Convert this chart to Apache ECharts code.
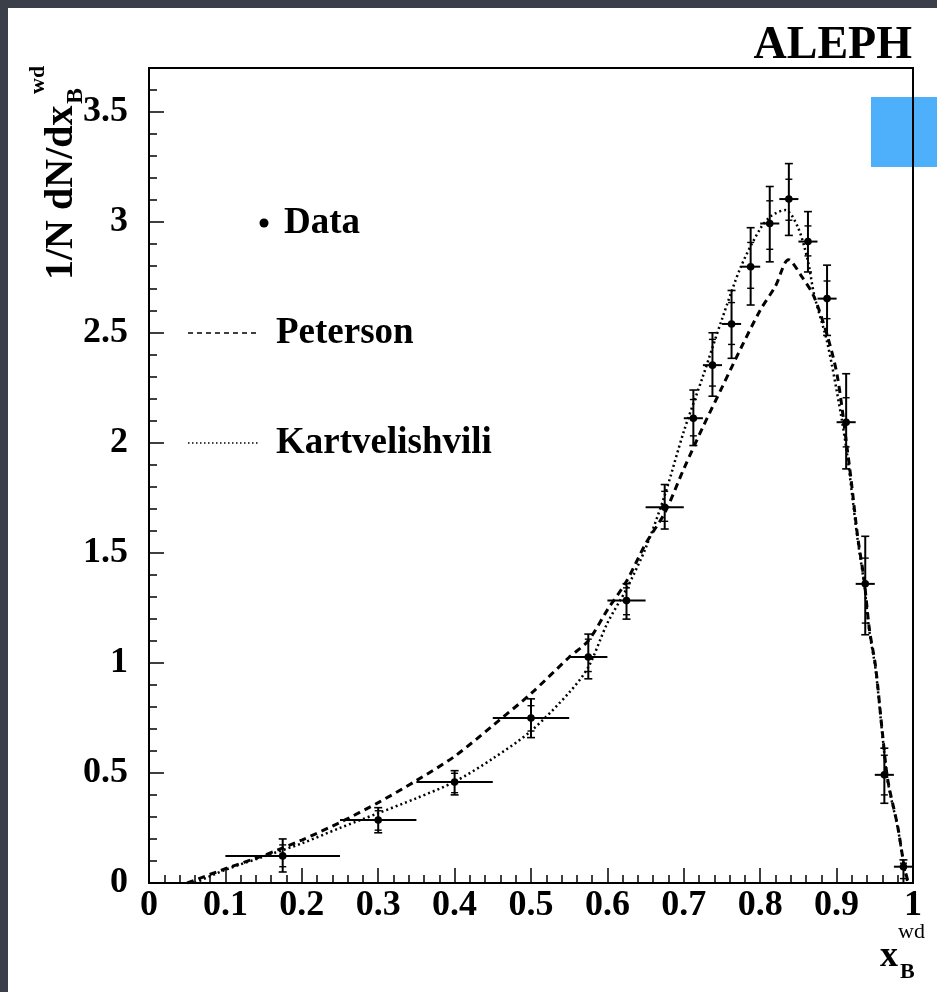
<!DOCTYPE html>
<html><head><meta charset="utf-8">
<script src="https://cdn.jsdelivr.net/npm/echarts@6/dist/echarts.min.js"></script>
<style>html,body{margin:0;padding:0;background:#3b3f4a;}#c{width:937px;height:992px;}</style>
</head><body><div id="c"></div><script>
// ---- data ----
const dataX     = [0.175,0.3,0.4,0.5,0.575,0.625,0.675,0.7125,0.7375,0.7625,0.7875,0.8125,0.8375,0.8625,0.8875,0.9125,0.9375,0.9625,0.9875];
const binLo     = [0.1,0.25,0.35,0.45,0.55,0.6,0.65,0.7,0.725,0.75,0.775,0.8,0.825,0.85,0.875,0.9,0.925,0.95,0.975];
const binHi     = [0.25,0.35,0.45,0.55,0.6,0.65,0.7,0.725,0.75,0.775,0.8,0.825,0.85,0.875,0.9,0.925,0.95,0.975,1.0];
const dataY     = [0.123,0.286,0.458,0.749,1.026,1.282,1.706,2.11,2.351,2.538,2.798,2.994,3.105,2.912,2.653,2.092,1.358,0.491,0.074];
const totLo     = [0.05,0.228,0.40,0.66,0.927,1.198,1.607,1.986,2.21,2.382,2.624,2.82,2.94,2.774,2.486,1.88,1.127,0.362,0.0];
const totHi     = [0.20,0.342,0.51,0.836,1.13,1.359,1.809,2.238,2.498,2.69,2.975,3.162,3.266,3.048,2.805,2.312,1.574,0.612,0.105];
const statLo    = [0.074,0.24,0.41,0.69,0.96,1.218,1.642,2.03,2.256,2.445,2.70,2.877,3.009,2.847,2.562,1.98,1.18,0.40,0.02];
const statHi    = [0.173,0.328,0.498,0.805,1.107,1.34,1.778,2.195,2.468,2.635,2.908,3.097,3.195,2.983,2.733,2.203,1.475,0.58,0.09];

const petersonX = [0.05,0.1,0.15,0.2,0.25,0.3,0.35,0.4,0.45,0.5,0.55,0.575,0.6,0.625,0.65,0.675,0.7,0.725,0.75,0.775,0.8,0.82,0.837,0.855,0.87,0.888,0.901,0.914,0.919,0.9275,0.936,0.943,0.951,0.96,0.967,0.98,0.9886,0.994];
const petersonY = [0,0.065,0.125,0.195,0.275,0.365,0.465,0.575,0.715,0.86,1.025,1.10,1.24,1.37,1.54,1.68,1.88,2.07,2.25,2.43,2.6,2.71,2.83,2.75,2.665,2.483,2.3,1.968,1.83,1.574,1.377,1.15,0.983,0.68,0.468,0.256,0.074,0];
const kartX     = [0.06,0.1,0.15,0.2,0.25,0.3,0.35,0.4,0.45,0.5,0.55,0.575,0.6,0.625,0.65,0.675,0.7,0.725,0.75,0.775,0.8,0.815,0.833,0.849,0.862,0.871,0.888,0.906,0.914,0.919,0.9275,0.936,0.943,0.951,0.96,0.967,0.98,0.9886,0.993];
const kartY     = [0,0.06,0.12,0.18,0.25,0.317,0.385,0.46,0.565,0.69,0.865,0.98,1.18,1.335,1.52,1.76,2.05,2.3,2.56,2.8,2.97,3.03,3.055,2.98,2.83,2.665,2.45,2.12,1.94,1.8,1.56,1.36,1.14,0.97,0.67,0.46,0.25,0.07,0];

const xTickLabels = ['0','0.1','0.2','0.3','0.4','0.5','0.6','0.7','0.8','0.9','1'];
const yTickLabels = ['0','0.5','1','1.5','2','2.5','3','3.5'];

// ---- build ----
const FONT = '"Liberation Serif","DejaVu Serif",serif';
const errData = dataX.map((x,i)=>[x,dataY[i],binLo[i],binHi[i],totLo[i],totHi[i],statLo[i],statHi[i]]);
const zip = (a,b)=>a.map((v,i)=>[v,b[i]]);

function renderErr(params, api){
  const x=api.value(0), y=api.value(1);
  const p=api.coord([x,y]);
  const pl=api.coord([api.value(2),y]), ph=api.coord([api.value(3),y]);
  const tl=api.coord([x,api.value(4)]), th=api.coord([x,api.value(5)]);
  const sl=api.coord([x,api.value(6)]), sh=api.coord([x,api.value(7)]);
  const st={stroke:'#000',lineWidth:2};
  const cap=4, cap2=3.5;
  const L=(x1,y1,x2,y2,w)=>({type:'line',shape:{x1,y1,x2,y2},style:{stroke:'#000',lineWidth:w||2}});
  return {type:'group',children:[
    L(pl[0],p[1],ph[0],p[1]),
    L(p[0],tl[1],p[0],th[1]),
    L(p[0]-cap,tl[1],p[0]+cap,tl[1],1.6),
    L(p[0]-cap,th[1],p[0]+cap,th[1],1.6),
    L(p[0]-cap2,sl[1],p[0]+cap2,sl[1],1.4),
    L(p[0]-cap2,sh[1],p[0]+cap2,sh[1],1.4),
    {type:'circle',shape:{cx:p[0],cy:p[1],r:3.8},style:{fill:'#000'}}
  ]};
}

const chart = echarts.init(document.getElementById('c'), null, {renderer:'canvas'});
const axisLineStyle = {color:'#000', width:2};
chart.setOption({
  animation:false,
  backgroundColor:'#3b3f4a',
  grid:{left:149, top:68, right:24, bottom:109, show:true, borderColor:'#000', borderWidth:2, backgroundColor:'transparent'},
  xAxis:[
    {type:'value', min:0, max:1, interval:0.1, position:'bottom',
     axisLine:{onZero:false, lineStyle:axisLineStyle},
     axisTick:{inside:true, length:15, lineStyle:{color:'#000', width:1.5}},
     axisLabel:{margin:5, color:'#000', fontFamily:FONT, fontWeight:'bold', fontSize:36,
       formatter:v=>{const k=Math.round(v*10); return Math.abs(v*10-k)<1e-6 ? (xTickLabels[k]||'') : '';}},
     splitLine:{show:false}},
    {type:'value', min:0, max:1, interval:0.02, position:'bottom', offset:0,
     axisLine:{show:false, onZero:false},
     axisTick:{inside:true, length:8, lineStyle:{color:'#000', width:1.5}},
     axisLabel:{show:false}, splitLine:{show:false}}
  ],
  yAxis:[
    {type:'value', min:0, max:3.7, interval:0.5, position:'left',
     axisLine:{show:true, onZero:false, lineStyle:axisLineStyle},
     axisTick:{show:true, inside:true, length:15, lineStyle:{color:'#000', width:1.5}},
     axisLabel:{margin:21, color:'#000', fontFamily:FONT, fontWeight:'bold', fontSize:36, showMaxLabel:false,
       formatter:v=>{const k=Math.round(v*2); return Math.abs(v*2-k)<1e-6 ? (yTickLabels[k]||'') : '';}},
     splitLine:{show:false}},
    {type:'value', min:0, max:3.7, interval:0.1, position:'left', offset:0,
     axisLine:{show:false, onZero:false},
     axisTick:{show:true, inside:true, length:8, lineStyle:{color:'#000', width:1.5}},
     axisLabel:{show:false}, splitLine:{show:false}}
  ],
  series:[
    {name:'Peterson', type:'line', data:zip(petersonX,petersonY), showSymbol:false, smooth:0.3,
     lineStyle:{color:'#000', width:3, type:[7,5]}, z:3},
    {name:'Kartvelishvili', type:'line', data:zip(kartX,kartY), showSymbol:false, smooth:0.3,
     lineStyle:{color:'#000', width:2.5, type:[2,3]}, z:3},
    {name:'Data', type:'custom', data:errData, renderItem:renderErr, z:4,
     encode:{x:0, y:1}}
  ],
  graphic:[
    {type:'rect', z:-20, shape:{x:8,y:8,width:929,height:984}, style:{fill:'#fff'}},
    {type:'rect', z:-10, shape:{x:871,y:97,width:66,height:70}, style:{fill:'#4eb0fb'}},
    {type:'text', x:912, y:46, style:{text:'ALEPH', font:'bold 46px '+FONT, fill:'#000', align:'right', verticalAlign:'middle'}},
    // legend
    {type:'circle', shape:{cx:264, cy:223, r:4.5}, style:{fill:'#000'}},
    {type:'text', x:284, y:223, style:{text:'Data', font:'bold 37px '+FONT, fill:'#000', align:'left', verticalAlign:'middle'}},
    {type:'line', shape:{x1:188,y1:333,x2:258,y2:333}, style:{stroke:'#000', lineWidth:1.5, lineDash:[5,4]}},
    {type:'text', x:276, y:333, style:{text:'Peterson', font:'bold 37px '+FONT, fill:'#000', align:'left', verticalAlign:'middle'}},
    {type:'line', shape:{x1:188,y1:443,x2:260,y2:443}, style:{stroke:'#000', lineWidth:1.5, lineDash:[1.5,2.5]}},
    {type:'text', x:276, y:443, style:{text:'Kartvelishvili', font:'bold 37px '+FONT, fill:'#000', align:'left', verticalAlign:'middle'}},
    // y axis title (rotated)
    {type:'group', x:62, y:280, rotation:Math.PI/2, children:[
      {type:'text', x:0, y:0, style:{text:'1/N dN/dx', font:'bold 40px '+FONT, fill:'#000', align:'left', verticalAlign:'middle'}},
      {type:'text', x:176, y:14, style:{text:'B', font:'bold 24px '+FONT, fill:'#000', align:'left', verticalAlign:'middle'}},
      {type:'text', x:186, y:-24, style:{text:'wd', font:'bold 22px '+FONT, fill:'#000', align:'left', verticalAlign:'middle'}}
    ]},
    // x axis title
    {type:'text', x:880, y:957, style:{text:'x', font:'bold 36px '+FONT, fill:'#000', align:'left', verticalAlign:'middle'}},
    {type:'text', x:900, y:972, style:{text:'B', font:'bold 22px '+FONT, fill:'#000', align:'left', verticalAlign:'middle'}},
    {type:'text', x:898, y:932, style:{text:'wd', font:'22px '+FONT, fill:'#000', align:'left', verticalAlign:'middle'}}
  ]
});
</script></body></html>
